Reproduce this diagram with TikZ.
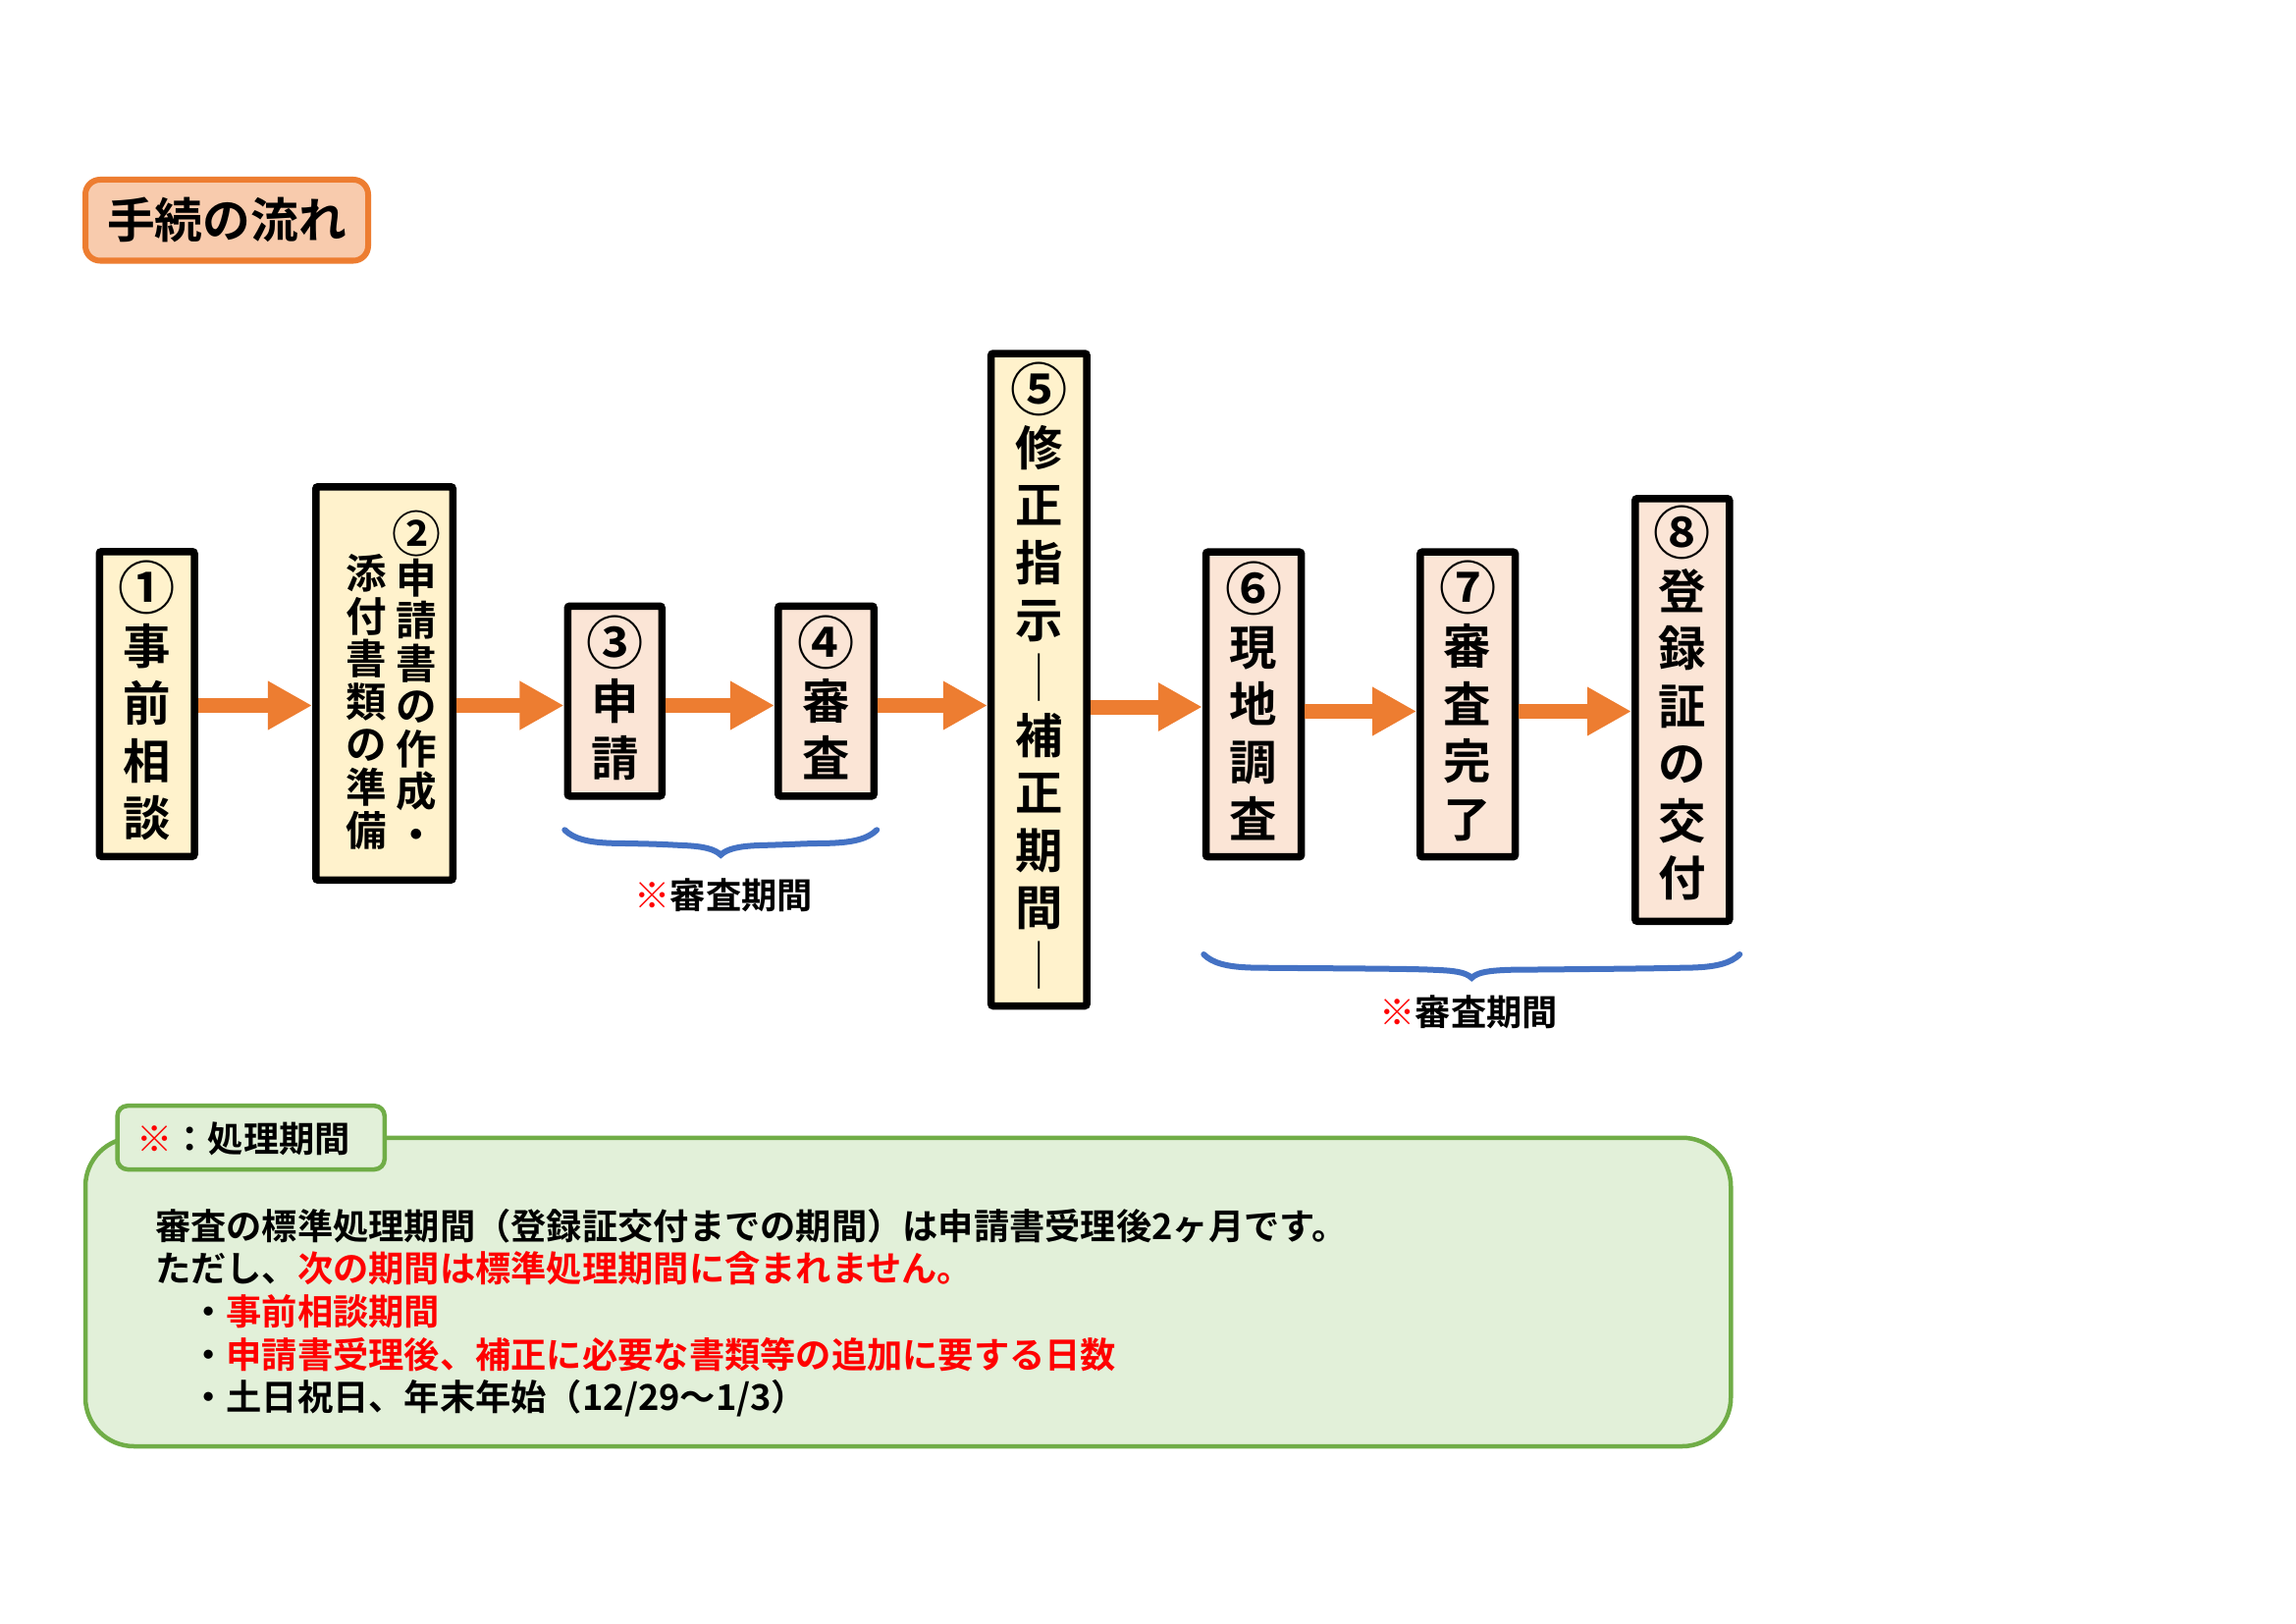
\documentclass[tikz,border=0pt]{standalone}
\usepackage{fontspec}
\setmainfont{Noto Sans CJK JP}[BoldFont={* Bold}]
\usetikzlibrary{arrows.meta}
\newdimen\pxu
\pxu=0.019047cm
\definecolor{boxyellow}{HTML}{FFF2CC}
\definecolor{boxpeach}{HTML}{FBE5D6}
\definecolor{titlefill}{HTML}{F8CBAD}
\definecolor{arrorange}{HTML}{ED7D31}
\definecolor{notefill}{HTML}{E2F0D9}
\definecolor{notegreen}{HTML}{70AD47}
\definecolor{braceblue}{HTML}{4472C4}
\definecolor{notered}{HTML}{FF0000}
\newcommand\circnum[1]{\raisebox{-0.06em}{\scalebox{1.2}{#1}}}
% x1, xmid, x2, y of ends, depth of tip
\newcommand\drawcurlybrace[5]{%
  \draw[brc] (#1,#4) .. controls (#1+6,#4+6) and (#1+16,#4+8.5) .. (#1+32,#4+9)
    .. controls (#1+60,#4+9.5) and (#2-45,#4+9.5) .. (#2-26,#4+10.5)
    .. controls (#2-12,#4+11) and (#2-4,#4+#5-4) .. (#2,#4+#5)
    .. controls (#2+4,#4+#5-4) and (#2+12,#4+11) .. (#2+26,#4+10.5)
    .. controls (#3-45,#4+9.5) and (#3-60,#4+9.5) .. (#3-32,#4+9)
    .. controls (#3-16,#4+8.5) and (#3-6,#4+6) .. (#3,#4);}
\begin{document}
\begin{tikzpicture}[x=0.019047cm,y=-0.019047cm,
  box/.style={draw=black, line width=5\pxu, inner sep=0pt, rounded corners=1.5\pxu},
  ybox/.style={box, fill=boxyellow},
  pbox/.style={box, fill=boxpeach},
  vt/.style={inner sep=0pt, align=center, font=\fontsize{17.5pt}{21.15pt}\selectfont\bfseries},
  vts/.style={inner sep=0pt, align=center, font=\fontsize{15pt}{15.74pt}\selectfont\bfseries},
  arr/.style={draw=arrorange, line width=10\pxu, -{Triangle[length=0.5714cm,width=0.5905cm]}},
  brc/.style={draw=braceblue, line width=4\pxu, line cap=round},
  note/.style={inner sep=0pt, anchor=west, font=\fontsize{13.1pt}{16pt}\selectfont\bfseries},
  lbl/.style={inner sep=0pt, font=\fontsize{13.1pt}{16pt}\selectfont\bfseries},
]
\useasboundingbox (0,0) rectangle (1559.33,1102.67);
\fill[white] (0,0) rectangle (1559.33,1102.67);

% title
\node[draw=arrorange, fill=titlefill, line width=4\pxu, rounded corners=10\pxu,
  minimum width=192\pxu, minimum height=55\pxu, inner sep=0pt,
  font=\fontsize{17.6pt}{20pt}\selectfont\bfseries] (title) at (154,149.5) {手続の流れ};

% boxes
\node[ybox, minimum width=64.5\pxu, minimum height=207\pxu] (b1) at (99.75,478) {};
\node[ybox, minimum width=93\pxu, minimum height=267\pxu] (b2) at (261,464) {};
\node[pbox, minimum width=64\pxu, minimum height=129\pxu] (b3) at (417.5,476) {};
\node[pbox, minimum width=65\pxu, minimum height=129\pxu] (b4) at (561,476) {};
\node[ybox, minimum width=65\pxu, minimum height=443\pxu] (b5) at (705.6,461.5) {};
\node[pbox, minimum width=64.8\pxu, minimum height=207\pxu] (b6) at (851.4,478.3) {};
\node[pbox, minimum width=64.5\pxu, minimum height=207\pxu] (b7) at (996.8,478.3) {};
\node[pbox, minimum width=64\pxu, minimum height=287\pxu] (b8) at (1142.5,482) {};

% box texts
\node[vt] (t1) at (99.75,475.7) {\circnum{①}\\事\\前\\相\\談};
\node[vts] (t2r) at (283,462) {\circnum{②}\\申\\請\\書\\の\\作\\成\\・};
\node[vts] (t2l) at (248.6,476.5) {添\\付\\書\\類\\の\\準\\備};
\node[vt] (t3) at (417.5,473.9) {\circnum{③}\\申\\請};
\node[vt] (t4) at (561,473.9) {\circnum{④}\\審\\査};
\node[vt] (t5) at (705.6,458.7) {\circnum{⑤}\\修\\正\\指\\示\\│\\補\\正\\期\\間\\│};
\node[vt] (t6) at (851.4,476) {\circnum{⑥}\\現\\地\\調\\査};
\node[vt] (t7) at (996.8,476) {\circnum{⑦}\\審\\査\\完\\了};
\node[vt] (t8) at (1142.5,477.5) {\circnum{⑧}\\登\\録\\証\\の\\交\\付};

% arrows
\draw[arr] (b1.east |- 0,479) -- (b2.west |- 0,479);
\draw[arr] (b2.east |- 0,479) -- (b3.west |- 0,479);
\draw[arr] (b3.east |- 0,479) -- (b4.west |- 0,479);
\draw[arr] (b4.east |- 0,479) -- (b5.west |- 0,479);
\draw[arr] (b5.east |- 0,480) -- (b6.west |- 0,480);
\draw[arr] (b6.east |- 0,483) -- (b7.west |- 0,483);
\draw[arr] (b7.east |- 0,483) -- (b8.west |- 0,483);

% braces
\drawcurlybrace{383.5}{489.5}{595.5}{563.5}{17}
\drawcurlybrace{817.5}{999.5}{1181.5}{648}{16}
\node[lbl] (lab1) at (491.5,607.6) {\textcolor{notered}{※}審査期間};
\node[lbl] (lab2) at (997.5,687) {\textcolor{notered}{※}審査期間};

% note box
\node[draw=notegreen, fill=notefill, line width=3\pxu, rounded corners=33\pxu,
  minimum width=1117.5\pxu, minimum height=209.5\pxu, inner sep=0pt] (notebox) at (616.75,877.25) {};
\node[draw=notegreen, fill=notefill, line width=3\pxu, rounded corners=7\pxu,
  minimum width=181.5\pxu, minimum height=43.2\pxu, inner sep=0pt] (tab) at (170.45,772.4) {};
\node[lbl] (tabtext) at (165.5,773.3) {\textcolor{notered}{※}：処理期間};

\node[note] (n1) at (105,832.3) {審査の標準処理期間（登録証交付までの期間）は申請書受理後2ヶ月です。};
\node[note] (n2) at (105,861) {ただし、\textcolor{notered}{次の期間は標準処理期間に含まれません。}};
\node[note] (n3) at (105,890.5) {　・\textcolor{notered}{事前相談期間}};
\node[note] (n4) at (105,920) {　・\textcolor{notered}{申請書受理後、補正に必要な書類等の追加に要する日数}};
\node[note] (n5) at (105,949.5) {　・土日祝日、年末年始（12/29～1/3）};
\end{tikzpicture}
\end{document}
